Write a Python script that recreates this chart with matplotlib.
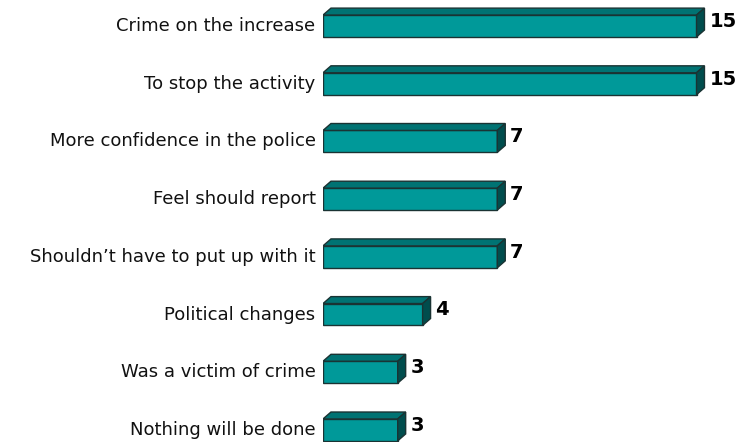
import matplotlib
matplotlib.use("Agg")
import matplotlib.pyplot as plt
from matplotlib.patches import Polygon

# reasons for reporting, top to bottom
categories = [
    "Crime on the increase",
    "To stop the activity",
    "More confidence in the police",
    "Feel should report",
    "Shouldn\u2019t have to put up with it",
    "Political changes",
    "Was a victim of crime",
    "Nothing will be done",
]
values = [15, 15, 7, 7, 7, 4, 3, 3]

front = "#009999"
top = "#007373"
side = "#004d4d"
edge = "#1a3333"

fig = plt.figure(figsize=(7.4, 4.42), dpi=100)
ax = fig.add_axes([323 / 740, 0, 1 - 323 / 740, 1])
ax.set_xlim(0, (740 - 323) / 24.9)
ax.set_ylim((442 - 26) / 57.7, -26 / 57.7)
ax.axis("off")

h = 0.38
dx, dy = 0.32, 0.12  # fake 3d depth

for i, (cat, v) in enumerate(zip(categories, values)):
    y0 = i - h / 2
    y1 = i + h / 2
    ax.barh(i, v, height=h, color=front, edgecolor=edge, linewidth=1, zorder=3)
    ax.add_patch(Polygon([(0, y0), (dx, y0 - dy), (v + dx, y0 - dy), (v, y0)],
                         closed=True, facecolor=top, edgecolor=edge, linewidth=1, zorder=3))
    ax.add_patch(Polygon([(v, y0), (v + dx, y0 - dy), (v + dx, y1 - dy), (v, y1)],
                         closed=True, facecolor=side, edgecolor=edge, linewidth=1, zorder=3))
    ax.text(-0.3, i, cat, ha="right", va="center", fontsize=13, color="#111111", clip_on=False)
    ax.text(v + dx + 0.2, i - 0.08, str(v), ha="left", va="center", fontsize=14,
            fontweight="bold", color="black")

fig.savefig("out.png", dpi=100)
